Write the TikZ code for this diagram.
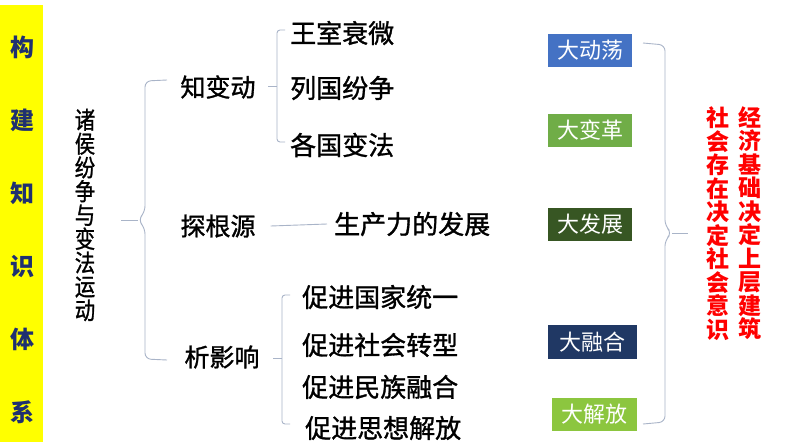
\documentclass[tikz,border=0pt]{standalone}
\usepackage{fontspec}
\newfontfamily\cjk{Noto Sans CJK SC}
\newfontfamily\cjkm{Noto Sans CJK SC}[FakeBold=1.2]
\definecolor{barY}{HTML}{FFFF00}
\definecolor{barT}{HTML}{1F3070}
\definecolor{lineC}{HTML}{A9B4C8}
\definecolor{cA}{HTML}{4472C4}
\definecolor{cB}{HTML}{70AD47}
\definecolor{cC}{HTML}{375623}
\definecolor{cD}{HTML}{203864}
\definecolor{cE}{HTML}{8CC63F}
\tikzset{
 txt/.style={inner sep=0pt, anchor=west, font=\cjkm\fontsize{26}{28}\selectfont},
 head/.style={inner sep=0pt, font=\cjkm\fontsize{25}{28}\selectfont},
 tag/.style={draw=none, fill=#1, text=white, inner sep=0pt, minimum height=33pt, minimum width=84pt, font=\cjk\fontsize{22}{24}\selectfont},
 brace/.style={draw=lineC, line width=0.9pt, rounded corners=6pt},
 conn/.style={draw=lineC, line width=0.9pt},
 vtext/.style={inner sep=0pt, align=center}
}
\begin{document}
\lineskiplimit=-100pt\relax
\begin{tikzpicture}[x=1pt,y=-1pt]
\useasboundingbox (0,0) rectangle (794,447);
\fill[white] (0,0) rectangle (794,447);
% yellow bar
\node[fill=barY, minimum width=43pt, minimum height=437pt, inner sep=0pt, anchor=north west] (bar) at (0,5) {};
\node[vtext, text=barT, font=\cjk\bfseries\fontsize{24}{73}\selectfont] (barTxt) at (22,229.5) {构\\建\\知\\识\\体\\系};
% title
\node[vtext, transform shape, xscale=0.85, font=\cjkm\fontsize{24}{23.8}\selectfont] (title) at (85,215) {诸\\侯\\纷\\争\\与\\变\\法\\运\\动};
% second level
\node[head] (zbd) at (218,87) {知变动};
\node[head] (tgy) at (218,226) {探根源};
\node[head] (xyx) at (222,357) {析影响};
% third level
\node[txt] (w1) at (290,33) {王室衰微};
\node[txt] (w2) at (290,88) {列国纷争};
\node[txt] (w3) at (290,145) {各国变法};
\node[txt] (scl) at (334,224) {生产力的发展};
\node[txt] (p1) at (302,297) {促进国家统一};
\node[txt] (p2) at (302,345) {促进社会转型};
\node[txt] (p3) at (302,387) {促进民族融合};
\node[txt] (p4) at (305,428) {促进思想解放};
% tags
\node[tag=cA] (t1) at (590,50) {大动荡};
\node[tag=cB] (t2) at (590,130.5) {大变革};
\node[tag=cC] (t3) at (590,224.5) {大发展};
\node[tag=cD, minimum width=89pt, minimum height=34pt] (t4) at (592.5,342) {大融合};
\node[tag=cE, minimum width=85pt] (t5) at (594.5,414.5) {大解放};
% red conclusion
\node[vtext, text=red, font=\cjk\bfseries\fontsize{23}{23.5}\selectfont] (r1) at (718,223.5) {社\\会\\存\\在\\决\\定\\社\\会\\意\\识};
\node[vtext, text=red, font=\cjk\bfseries\fontsize{23}{23.5}\selectfont] (r2) at (750,223) {经\\济\\基\\础\\决\\定\\上\\层\\建\\筑};
% braces
\coordinate (b1) at (138,220);
\draw[brace] (167,80) -- (145,81) -- (145,212) -- (b1) -- (145,228) -- (145,359) -- (167,360);
\draw[conn] (b1) -- (121,220);
\coordinate (b2) at (277,86);
\draw[brace, rounded corners=3pt] (285,30) -- (277,30) -- (277,142) -- (285,142);
\draw[conn] (b2) -- (268,86);
\draw[conn] ([xshift=15pt]tgy.east) -- ([xshift=-7pt]scl.west);
\coordinate (b3) at (282,358);
\draw[brace, rounded corners=3pt] (290,295) -- (282,295) -- (282,424) -- (290,424);
\draw[conn] (b3) -- (273,358);
\coordinate (b4) at (672,233);
\draw[brace] (643,43) -- (665,45) -- (665,226) -- (b4) -- (665,240) -- (665,422) -- (643,424);
\draw[conn] (b4) -- (688,233);
\end{tikzpicture}
\end{document}
